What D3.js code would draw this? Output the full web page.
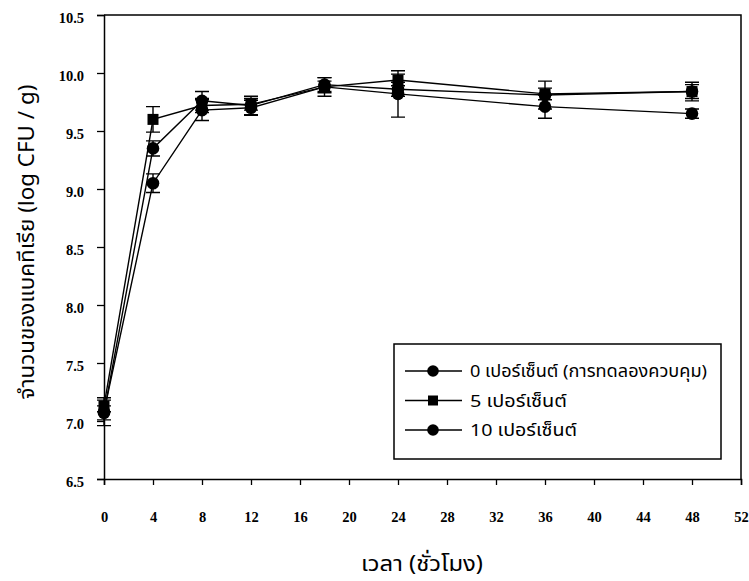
<!DOCTYPE html>
<html>
<head>
<meta charset="utf-8">
<script src="https://cdn.jsdelivr.net/npm/d3@7"></script>
<style>
  html, body { margin: 0; padding: 0; background: #fff; }
  svg { display: block; }
  .thai { font-family: "Noto Sans Thai", "Noto Sans Thai Looped", "Leelawadee UI", Tahoma, "Loma", "Garuda", "Waree", "Tlwg Typo", "DejaVu Sans", sans-serif; }
  .tick-label { font-family: "Liberation Serif", "Times New Roman", serif; font-weight: bold; font-size: 14.5px; }
</style>
</head>
<body>
<script>
// Sampling times (hours)
const hours = [0, 4, 8, 12, 18, 24, 36, 48];

// Bacterial counts (log CFU / g) and standard deviations for each treatment
const control0 = [7.08, 9.05, 9.68, 9.70, 9.88, 9.82, 9.71, 9.65];
const control0Err = [0.12, 0.08, 0.09, 0.065, 0.08, 0.20, 0.10, 0.04];
const pct5 = [7.13, 9.60, 9.72, 9.73, 9.88, 9.94, 9.82, 9.84];
const pct5Err = [0.05, 0.11, 0.06, 0.05, 0.05, 0.05, 0.05, 0.06];
const pct10 = [7.07, 9.35, 9.76, 9.72, 9.90, 9.86, 9.81, 9.84];
const pct10Err = [0.06, 0.065, 0.08, 0.08, 0.06, 0.06, 0.12, 0.08];

const seriesNames = ["0 เปอร์เซ็นต์ (การทดลองควบคุม)", "5 เปอร์เซ็นต์", "10 เปอร์เซ็นต์"];
const seriesShapes = ["circle", "square", "circle"];

const xTicks = [0, 4, 8, 12, 16, 20, 24, 28, 32, 36, 40, 44, 48, 52];
const yTicks = [6.5, 7.0, 7.5, 8.0, 8.5, 9.0, 9.5, 10.0, 10.5];

const xTitle = "เวลา (ชั่วโมง)";
const yTitle = "จำนวนของแบคทีเรีย (log CFU / g)";

const series = [
  { name: seriesNames[0], shape: seriesShapes[0], values: control0, errors: control0Err },
  { name: seriesNames[1], shape: seriesShapes[1], values: pct5, errors: pct5Err },
  { name: seriesNames[2], shape: seriesShapes[2], values: pct10, errors: pct10Err }
];

const W = 749, H = 581;
const plot = { left: 104, right: 741, top: 15, bottom: 479 };

const svg = d3.select("body").append("svg").attr("width", W).attr("height", H);

const x = d3.scaleLinear().domain([0, 52]).range([plot.left, plot.right]);
const y = d3.scaleLinear().domain([6.5, 10.5]).range([plot.bottom, plot.top]);

// Frame: top and right borders
svg.append("path")
  .attr("d", `M${plot.left},${plot.top}H${plot.right}V${plot.bottom}`)
  .attr("fill", "none").attr("stroke", "#000").attr("stroke-width", 1.5);

// Axes
const xAxis = svg.append("g").attr("transform", `translate(0,${plot.bottom})`)
  .call(d3.axisBottom(x).tickValues(xTicks).tickSize(6).tickPadding(27).tickFormat(d3.format("d")));
const yAxis = svg.append("g").attr("transform", `translate(${plot.left},0)`)
  .call(d3.axisLeft(y).tickValues(yTicks).tickSize(7).tickPadding(13).tickFormat(d3.format(".1f")));

[xAxis, yAxis].forEach(g => {
  g.select(".domain").attr("stroke", "#000").attr("stroke-width", 1.5);
  g.selectAll(".tick line").attr("stroke", "#000").attr("stroke-width", 1.3);
  g.selectAll(".tick text").attr("class", "tick-label").attr("fill", "#000");
});
yAxis.selectAll(".tick text").attr("dy", "0.5em");

// Axis titles
svg.append("text").attr("class", "thai")
  .attr("x", 422).attr("y", 571)
  .attr("text-anchor", "middle").attr("font-size", 22).attr("fill", "#000")
  .attr("textLength", 122).attr("lengthAdjust", "spacingAndGlyphs")
  .text(xTitle);

svg.append("text").attr("class", "thai")
  .attr("transform", "translate(34,242) rotate(-90)")
  .attr("text-anchor", "middle").attr("font-size", 21).attr("fill", "#000")
  .attr("textLength", 315).attr("lengthAdjust", "spacingAndGlyphs")
  .text(yTitle);

// Marker drawing helper
function drawMarker(g, shape, cx, cy, size) {
  if (shape === "square") {
    g.append("rect").attr("x", cx - size / 2).attr("y", cy - size / 2)
      .attr("width", size).attr("height", size).attr("fill", "#000");
  } else {
    g.append("circle").attr("cx", cx).attr("cy", cy).attr("r", size / 2 + 0.8).attr("fill", "#000");
  }
}

const line = d3.line().x(d => x(d.t)).y(d => y(d.v));
const capHalf = 7;

series.forEach(s => {
  const pts = hours.map((t, i) => ({ t, v: s.values[i], e: s.errors[i] }));
  const g = svg.append("g");

  g.append("path").datum(pts).attr("d", line)
    .attr("fill", "none").attr("stroke", "#000").attr("stroke-width", 1.4);

  // Error bars
  pts.forEach(p => {
    const cx = x(p.t), y0 = y(p.v - p.e), y1 = y(p.v + p.e);
    g.append("path")
      .attr("d", `M${cx},${y0}V${y1}M${cx - capHalf},${y0}H${cx + capHalf}M${cx - capHalf},${y1}H${cx + capHalf}`)
      .attr("fill", "none").attr("stroke", "#000").attr("stroke-width", 1.4);
  });

  pts.forEach(p => drawMarker(g, s.shape, x(p.t), y(p.v), 11));
});

// Legend
const legend = svg.append("g");
legend.append("rect").attr("x", 394).attr("y", 344).attr("width", 327).attr("height", 115)
  .attr("fill", "#fff").attr("stroke", "#000").attr("stroke-width", 1.5);

const legendWidths = [237, 97, 107];
series.forEach((s, i) => {
  const ly = 371 + i * 29.5;
  legend.append("line").attr("x1", 405).attr("x2", 462).attr("y1", ly).attr("y2", ly)
    .attr("stroke", "#000").attr("stroke-width", 1.4);
  drawMarker(legend, s.shape, 433, ly, 10);
  legend.append("text").attr("class", "thai")
    .attr("x", 470).attr("y", ly + 6)
    .attr("font-size", 17).attr("fill", "#000")
    .attr("textLength", legendWidths[i]).attr("lengthAdjust", "spacingAndGlyphs")
    .text(s.name);
});
</script>
</body>
</html>
